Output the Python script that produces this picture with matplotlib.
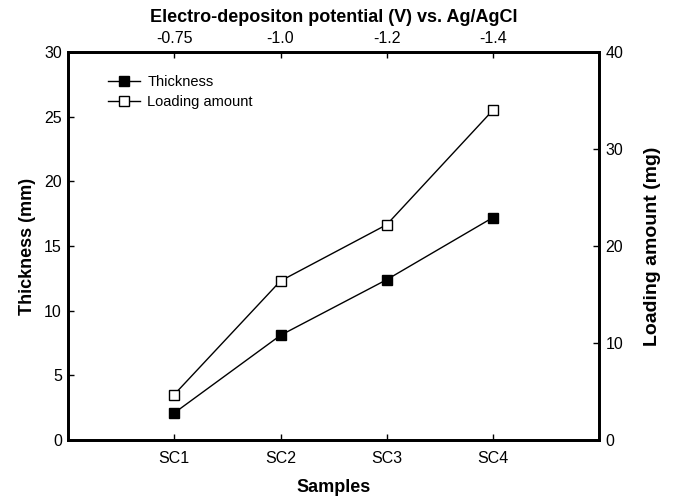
import matplotlib
matplotlib.use("Agg")
import matplotlib.pyplot as plt

samples = ["SC1", "SC2", "SC3", "SC4"]
potentials = ["-0.75", "-1.0", "-1.2", "-1.4"]
thickness = [2.1, 8.1, 12.4, 17.2]
loading = [4.7, 16.4, 22.2, 34.0]

plt.rcParams['font.family'] = ['Liberation Sans', 'DejaVu Sans']
fig = plt.figure(figsize=(6.74, 4.99), dpi=100)
ax = fig.add_axes([0.101, 0.118, 0.788, 0.778])
x = list(range(1, len(samples) + 1))

l1, = ax.plot(x, thickness, color='black', lw=1, marker='s', ms=7,
              mfc='black', mec='black', label='Thickness', zorder=3)
ax.set_xlim(0, 5)
ax.set_ylim(0, 30)
ax.set_xticks(x)
ax.set_xticklabels(samples)
ax.set_yticks(range(0, 31, 5))

ax2 = ax.twinx()
l2, = ax2.plot(x, loading, color='black', lw=1, marker='s', ms=7,
               mfc='white', mec='black', mew=1, label='Loading amount', zorder=3)
ax2.set_ylim(0, 40)
ax2.set_yticks(range(0, 41, 10))

ax3 = ax.twiny()
ax3.set_xlim(0, 5)
ax3.set_xticks(x)
ax3.set_xticklabels(potentials)

for a in (ax, ax2, ax3):
    for s in a.spines.values():
        s.set_linewidth(1.8)
    a.tick_params(direction='in', length=4, width=1, labelsize=11.5, pad=4.5)
ax.tick_params(axis='x', pad=8)
ax3.tick_params(axis='x', pad=4)

ax.set_ylabel('Thickness (mm)', fontsize=13, fontweight='bold', labelpad=6)
ax.set_xlabel('Samples', fontsize=13, fontweight='bold', labelpad=9)
ax2.set_ylabel('Loading amount (mg)', fontsize=14, fontweight='bold', labelpad=15)
ax3.set_xlabel('Electro-depositon potential (V) vs. Ag/AgCl', fontsize=13,
               fontweight='bold', labelpad=7)

ax.legend(handles=[l1, l2], loc='upper left', bbox_to_anchor=(0.05, 0.975),
          frameon=False, fontsize=10.5, handlelength=2.2, handletextpad=0.5,
          labelspacing=0.45)

fig.savefig('out.png', dpi=100)
